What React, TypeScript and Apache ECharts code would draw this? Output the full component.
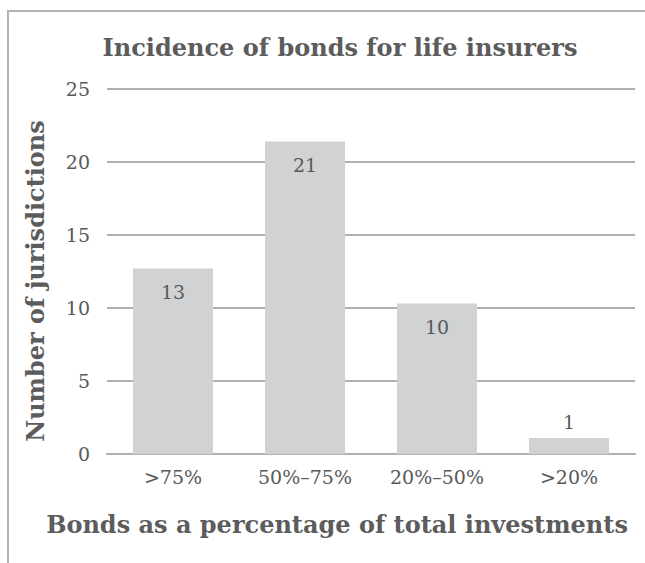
import React, { useEffect, useRef } from "react";
import * as echarts from "echarts";

const categories = [">75%", "50%–75%", "20%–50%", ">20%"];
const values = [12.7, 21.4, 10.3, 1.1];
const titleText = "Incidence of bonds for life insurers";
const yName = "Number of jurisdictions";
const xName = "Bonds as a percentage of total investments";

const FONT = "'DejaVu Serif', serif";
const TEXT = "#595959";
const HEAD = "#5c5c5c";

export default function App() {
  const ref = useRef<HTMLDivElement>(null);
  useEffect(() => {
    if (!ref.current) return;
    const chart = echarts.init(ref.current, null, { renderer: "svg" });
    chart.setOption({
      animation: false,
      backgroundColor: "#ffffff",
      title: {
        text: titleText,
        left: 335,
        top: 30,
        textAlign: "center",
        textStyle: { fontFamily: FONT, fontWeight: "bold", fontSize: 24, color: HEAD },
      },
      grid: { left: 107, right: 10, top: 89, bottom: 109, containLabel: false },
      xAxis: {
        type: "category",
        data: categories,
        axisLine: { show: true, lineStyle: { color: "#b0b0b0", width: 2 } },
        axisTick: { show: false },
        axisLabel: { fontFamily: FONT, fontSize: 19, color: TEXT, margin: 13 },
      },
      yAxis: {
        type: "value",
        min: 0,
        max: 25,
        interval: 5,
        axisLine: { show: false },
        axisTick: { show: false },
        axisLabel: { fontFamily: FONT, fontSize: 19, color: TEXT, margin: 17 },
        splitLine: { lineStyle: { color: "#b0b0b0", width: 2 } },
      },
      series: [
        {
          type: "bar",
          data: values.map((v) => ({
            value: v,
            label: v < 3 ? { position: "top", distance: 6 } : { position: "insideTop", distance: 14 },
          })),
          barWidth: 80,
          itemStyle: { color: "#d1d2d4" },
          label: {
            show: true,
            fontFamily: FONT,
            fontSize: 19,
            color: TEXT,
            formatter: (p: any) => String(Math.round(p.value)),
          },
        },
      ],
      graphic: [
        {
          type: "text",
          x: 35,
          y: 281,
          rotation: Math.PI / 2,
          style: {
            text: yName,
            fontFamily: FONT,
            fontWeight: "bold",
            fontSize: 24,
            fill: HEAD,
            align: "center",
            verticalAlign: "middle",
          },
        },
        {
          type: "text",
          x: 337,
          y: 524,
          style: {
            text: xName,
            fontFamily: FONT,
            fontWeight: "bold",
            fontSize: 24,
            fill: HEAD,
            align: "center",
            verticalAlign: "middle",
          },
        },
        {
          type: "polyline",
          shape: { points: [[8, 600], [8, 11], [660, 11]] },
          style: { stroke: "#b4b4b4", lineWidth: 2, fill: "none" },
        },
      ],
    });
    return () => chart.dispose();
  }, []);
  return (
    <div
      ref={ref}
      style={{ position: "fixed", left: 0, top: 0, width: 645, height: 563 }}
    />
  );
}
